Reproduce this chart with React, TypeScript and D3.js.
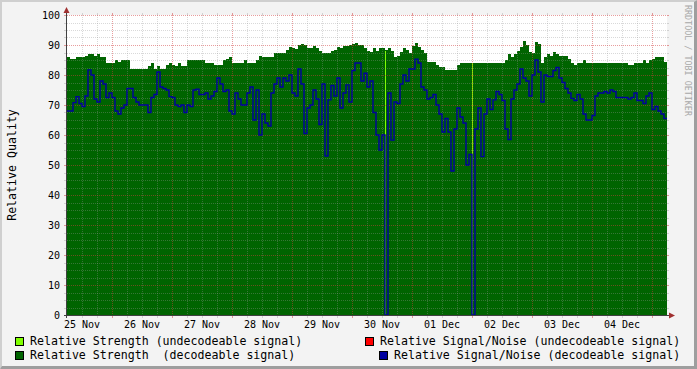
import React from "react";
import * as d3 from "d3";

// ---- data -------------------------------------------------------------
// one sample every 72 minutes, starting 25 Nov 06:00 (200 samples = 10 days)
const startTime = new Date(2023, 10, 25, 6, 0, 0);
const endTime = new Date(2023, 11, 5, 6, 0, 0);
const sampleMinutes = 72;

const strengthDecodeable: number[] = [
  86, 85.5, 85.5, 86, 86, 86, 86.5, 87, 87, 86.5,
  87, 86, 86, 84, 84, 84, 85, 84.5, 85, 85,
  85, 82, 82, 82, 82, 82, 82, 83, 84, 82,
  83, 82, 82, 83.5, 84, 83.5, 83, 84, 83, 83,
  85, 85, 85, 85, 85, 85, 84, 84, 84, 83.5,
  83.5, 83.5, 85, 85.5, 86, 84, 84, 84, 84, 85,
  84, 84, 84, 85, 86.5, 86, 86, 86, 86, 87.5,
  87.5, 87.3, 87.5, 88.5, 89.5, 89, 88.7, 90, 90.5, 90,
  89, 89, 89.7, 89, 88, 87.2, 87.2, 87.5, 88, 88.5,
  89.5, 89, 89.7, 89.7, 90, 90.5, 90.8, 90, 90, 89,
  88, 87.8, 88.9, 88, 88.9, 88.9, 88.5, 89, 88, 86,
  86.5, 87.8, 89, 88.5, 87.5, 89.7, 90.6, 89.5, 88.5, 87.2,
  84.4, 84.4, 84.4, 83.5, 82.8, 82.8, 81.7, 81.7, 81.7, 81.7,
  83.3, 84.1, 84.1, 84.1, 84.1, 84.1, 84.1, 84.1, 84.1, 84.1,
  84.1, 84.1, 84.1, 84.1, 84.1, 84.1, 85, 87, 86, 87,
  88, 89.5, 91.5, 90, 87.8, 87.5, 91, 90.5, 84, 86,
  87, 86.5, 87.8, 87, 86.5, 86.5, 86.5, 85.5, 84.1, 83.3,
  84.1, 84.1, 85, 84.1, 84.1, 84.1, 84.1, 84.1, 84.1, 84.1,
  84.1, 84.1, 84.1, 84.1, 84.1, 84.1, 84.1, 83.3, 83.3, 84.1,
  84.1, 84.1, 85, 84.1, 85, 85.5, 86, 86, 86, 84.5,
];

const snrDecodeable: number[] = [
  68, 68, 70.8, 72.8, 70.5, 69.5, 73, 81.7, 80, 72,
  71, 78, 77, 72.5, 74, 72.5, 68, 67, 69, 70,
  75.5, 75.5, 72.5, 71, 70, 70, 70, 67.5, 72.5, 73.5,
  81, 76, 75.5, 75, 72.8, 72.5, 70, 69.5, 70, 67.5,
  70, 69.5, 75, 75.3, 73.5, 73.5, 74, 72, 73, 74.5,
  79, 77, 74.5, 75, 68, 67, 74, 72, 70, 70,
  74, 76, 65, 75, 60, 67, 64, 63, 74, 77,
  79, 76, 79, 78, 80, 74, 73, 82, 77, 60.5,
  69, 70, 75, 72, 63.5, 77, 53, 71.7, 76.5, 73,
  79, 69, 74, 76.7, 71, 81.5, 84, 84, 78, 80.6,
  76, 78, 67.5, 60, 55, 60, 0, 74, 58.3, 71,
  70.5, 77, 80, 78, 82, 82, 85.3, 84, 76, 75,
  72, 72.5, 73.5, 70, 67, 61, 65.5, 61, 48, 62,
  69, 66, 64, 50, 53.5, 0, 62, 69, 52.8, 67,
  72, 68.5, 71.7, 74.5, 73.5, 71.5, 62, 58.5, 72, 75,
  77, 82, 79, 78, 73, 80, 85, 81, 71, 80,
  79.5, 79.5, 81.5, 82.5, 79, 77.5, 75.5, 74, 72.2, 71.5,
  73.5, 72, 67, 65, 65, 66.5, 73, 74, 74, 74.5,
  74, 75, 74.5, 72.5, 72.5, 72.5, 72.5, 72, 72.5, 74,
  71.5, 71.5, 70.5, 73, 74, 68.5, 69.5, 68, 67, 65.5,
];

// undecodeable strength: only two short bursts (sample index, value)
const undecodeableIdx: number[] = [106, 135];
const strengthUndecodeable: number[] = [88, 84];

const yTickValues: number[] = [0, 10, 20, 30, 40, 50, 60, 70, 80, 90, 100];
const dayLabels: string[] = [
  "25 Nov", "26 Nov", "27 Nov", "28 Nov", "29 Nov",
  "30 Nov", "01 Dec", "02 Dec", "03 Dec", "04 Dec",
];

const legendLeft: string[] = [
  "Relative Strength (undecodeable signal)",
  "Relative Strength  (decodeable signal)",
];
const legendRight: string[] = [
  "Relative Signal/Noise (undecodeable signal)",
  "Relative Signal/Noise (decodeable signal)",
];

// ---- styles -----------------------------------------------------------
const W = 697;
const H = 369;
const M = { left: 67, right: 667, top: 15, bottom: 315 };
const FONT = "'DejaVu Sans Mono', monospace";
const C = {
  back: "#F3F3F3",
  shadeA: "#CFCFCF",
  shadeB: "#9E9E9E",
  canvas: "#FFFFFF",
  lime: "#80FF00",
  red: "#FF0000",
  green: "#006400",
  blue: "#0000A0",
  grid: "rgba(150,150,150,0.36)",
  mgrid: "rgba(210,60,60,0.5)",
  axis: "#404040",
  arrow: "#A03030",
  water: "#A8A8A8",
};

const MIN = 60 * 1000;

export default function App() {
  const x = d3.scaleTime().domain([startTime, endTime]).range([M.left, M.right]);
  const y = d3.scaleLinear().domain([0, 100]).range([M.bottom, M.top]);

  const tOf = (i: number) => new Date(startTime.getTime() + i * sampleMinutes * MIN);

  const strengthPts = strengthDecodeable.map((v, i) => ({ t: tOf(i), v }));
  strengthPts.push({ t: tOf(strengthDecodeable.length), v: strengthDecodeable[strengthDecodeable.length - 1] });
  const snrPts = snrDecodeable.map((v, i) => ({ t: tOf(i), v }));
  snrPts.push({ t: tOf(snrDecodeable.length), v: snrDecodeable[snrDecodeable.length - 1] });

  const area = d3
    .area<{ t: Date; v: number }>()
    .x((d) => x(d.t))
    .y0(y(0))
    .y1((d) => y(d.v))
    .curve(d3.curveStepAfter);
  const line = d3
    .line<{ t: Date; v: number }>()
    .x((d) => x(d.t))
    .y((d) => y(d.v))
    .curve(d3.curveStepAfter);

  // grid
  const hMinor = d3.range(2.5, 100.01, 2.5).filter((v) => Math.abs(v % 10) > 0.01);
  const hMajor = yTickValues.filter((v) => v > 0);
  const vTimes = d3.timeHour.every(6)!.range(startTime, endTime).filter((t) => t > startTime);
  const vMajor = vTimes.filter((t) => t.getHours() === 0);
  const vMinor = vTimes.filter((t) => t.getHours() !== 0);

  const labelTimes = dayLabels.map((_, i) => new Date(2023, 10, 25 + i, 12, 0, 0));

  const hLine = (v: number, col: string, key: string) => {
    const yy = Math.round(y(v)) + 0.5;
    return (
      <g key={key}>
        <line x1={M.left} x2={M.right} y1={yy} y2={yy} stroke={col} strokeDasharray="1,1" />
        <line x1={M.left - 3} x2={M.left} y1={yy} y2={yy} stroke={col} />
        <line x1={M.right} x2={M.right + 2} y1={yy} y2={yy} stroke={col} />
      </g>
    );
  };
  const vLine = (t: Date, col: string, key: string) => {
    const xx = Math.round(x(t)) + 0.5;
    return (
      <g key={key}>
        <line x1={xx} x2={xx} y1={M.top} y2={M.bottom} stroke={col} strokeDasharray="1,1" />
        <line x1={xx} x2={xx} y1={M.bottom} y2={M.bottom + 3} stroke={col} />
        <line x1={xx} x2={xx} y1={M.top - 2} y2={M.top} stroke={col} />
      </g>
    );
  };

  const stepW = x(new Date(startTime.getTime() + 24 * MIN)) - x(startTime);

  const legendFs = 11.6;
  const box = (bx: number, by: number, fill: string) => (
    <rect x={bx + 0.5} y={by + 0.5} width={8} height={8} fill={fill} stroke="#000" strokeWidth={1} />
  );

  return (
    <svg
      width={W}
      height={H}
      style={{ position: "absolute", left: 0, top: 0, fontFamily: FONT }}
      xmlns="http://www.w3.org/2000/svg"
    >
      {/* background & 3D frame */}
      <rect x={0} y={0} width={W} height={H} fill={C.back} />
      <polygon points={`0,0 ${W},0 ${W - 2},2 2,2 2,${H - 2} 0,${H}`} fill={C.shadeA} />
      <polygon points={`${W},0 ${W},${H} 0,${H} 2,${H - 3} ${W - 3},${H - 3} ${W - 3},2`} fill={C.shadeB} />

      {/* canvas */}
      <rect x={M.left} y={M.top} width={M.right - M.left} height={M.bottom - M.top} fill={C.canvas} />

      {/* decodeable strength area */}
      <path d={area(strengthPts) ?? ""} fill={C.green} shapeRendering="crispEdges" />

      {/* undecodeable strength bursts */}
      {undecodeableIdx.map((idx, k) => {
        const x0 = x(tOf(idx));
        return (
          <rect
            key={"u" + k}
            x={x0}
            width={stepW}
            y={y(strengthUndecodeable[k])}
            height={y(0) - y(strengthUndecodeable[k])}
            fill={C.lime}
            shapeRendering="crispEdges"
          />
        );
      })}

      {/* grid */}
      {hMinor.map((v, i) => hLine(v, C.grid, "hm" + i))}
      {vMinor.map((t, i) => vLine(t, C.grid, "vm" + i))}
      {hMajor.map((v, i) => hLine(v, C.mgrid, "hM" + i))}
      {vMajor.map((t, i) => vLine(t, C.mgrid, "vM" + i))}

      {/* SNR line */}
      <path d={line(snrPts) ?? ""} fill="none" stroke={C.blue} strokeWidth={1.4} strokeLinejoin="miter" />

      {/* axes */}
      <line x1={M.left - 3} x2={M.right + 3} y1={M.bottom + 0.5} y2={M.bottom + 0.5} stroke={C.axis} />
      <line x1={M.left - 0.5} x2={M.left - 0.5} y1={M.bottom + 3} y2={M.top - 3} stroke={C.axis} />
      <polygon
        points={`${M.left - 0.5},${M.top - 8} ${M.left - 3.5},${M.top - 2} ${M.left + 2.5},${M.top - 2}`}
        fill={C.arrow}
      />
      <polygon
        points={`${M.right + 8},${M.bottom + 0.5} ${M.right + 2},${M.bottom - 2.5} ${M.right + 2},${M.bottom + 3.5}`}
        fill={C.arrow}
      />

      {/* y tick labels */}
      {yTickValues.map((v) => (
        <text key={"yl" + v} x={60} y={y(v) + 3.5} fontSize={10} textAnchor="end" fill="#000">
          {v}
        </text>
      ))}

      {/* x labels */}
      {dayLabels.map((lab, i) => (
        <text key={"xl" + i} x={x(labelTimes[i])} y={328} fontSize={10} textAnchor="middle" fill="#000">
          {lab}
        </text>
      ))}

      {/* y title */}
      <text
        transform={`translate(16, ${(M.top + M.bottom) / 2}) rotate(-90)`}
        fontSize={11.6}
        textAnchor="middle"
        fill="#000"
      >
        Relative Quality
      </text>

      {/* watermark */}
      <text transform={`translate(685, 5) rotate(90)`} fontSize={8.4} fill={C.water}>
        RRDTOOL / TOBI OETIKER
      </text>

      {/* legend */}
      {box(15, 337, C.lime)}
      <text x={30} y={345} fontSize={legendFs} fill="#000" xmlSpace="preserve" style={{ whiteSpace: "pre" }}>
        {legendLeft[0]}
      </text>
      {box(365, 337, C.red)}
      <text x={380} y={345} fontSize={legendFs} fill="#000" xmlSpace="preserve" style={{ whiteSpace: "pre" }}>
        {legendRight[0]}
      </text>
      {box(15, 351, C.green)}
      <text x={30} y={359} fontSize={legendFs} fill="#000" xmlSpace="preserve" style={{ whiteSpace: "pre" }}>
        {legendLeft[1]}
      </text>
      {box(379, 351, C.blue)}
      <text x={394} y={359} fontSize={legendFs} fill="#000" xmlSpace="preserve" style={{ whiteSpace: "pre" }}>
        {legendRight[1]}
      </text>
    </svg>
  );
}
